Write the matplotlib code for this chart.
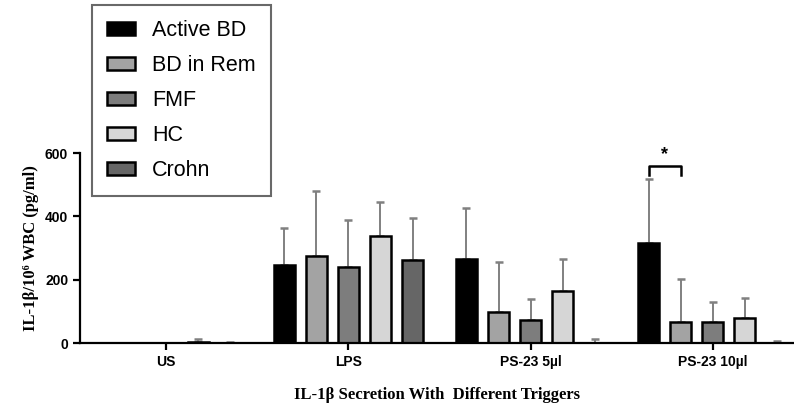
import numpy as np
import matplotlib
matplotlib.use("Agg")
import matplotlib.pyplot as plt

# --- Data ---
triggers = ["US", "LPS", "PS-23 5µl", "PS-23 10µl"]
groups = ["Active BD", "BD in Rem", "FMF", "HC", "Crohn"]

active_bd = [0, 248, 264, 315]
bd_in_rem = [0, 275, 97, 67]
fmf = [0, 239, 73, 67]
hc = [4, 338, 165, 80]
crohn = [1, 262, 1, 1]

active_bd_err = [0, 116, 161, 202]
bd_in_rem_err = [0, 206, 158, 134]
fmf_err = [0, 149, 65, 63]
hc_err = [8, 108, 100, 61]
crohn_err = [1, 132, 11, 6]

means = [active_bd, bd_in_rem, fmf, hc, crohn]
errs = [active_bd_err, bd_in_rem_err, fmf_err, hc_err, crohn_err]
colors = ["#000000", "#a3a3a3", "#7d7d7d", "#d6d6d6", "#666666"]

plt.rcParams.update({
    "font.family": "Liberation Sans",
    "font.weight": "bold",
    "axes.linewidth": 1.6,
})

fig = plt.figure(figsize=(7.94, 4.05), dpi=100)
ax = fig.add_axes([0.1008, 0.153, 0.899, 0.469])

x = np.arange(len(triggers))
step = 0.176
width = 0.115

for i, (name, m, e, c) in enumerate(zip(groups, means, errs, colors)):
    pos = x + (i - 2) * step
    ax.errorbar(pos, m, yerr=[np.zeros(len(m)), e], fmt="none", ecolor="#808080",
                elinewidth=1.4, capsize=3, capthick=1.8, zorder=1)
    ax.bar(pos, m, width, color=c, edgecolor="black", linewidth=1.8, label=name, zorder=2)

# significance bracket: Active BD vs BD in Rem at PS-23 10µl
x1 = x[3] - 2 * step
x2 = x[3] - 1 * step
ax.plot([x1, x1, x2, x2], [530, 559, 559, 530], color="black", lw=1.8, clip_on=False)
ax.text((x1 + x2) / 2, 595, "*", ha="center", va="center", fontsize=13, clip_on=False)

ax.set_xlim(-0.473, 3.445)
ax.set_ylim(0, 600)
ax.set_yticks([0, 200, 400, 600])
ax.set_xticks(x)
ax.set_xticklabels(triggers)
ax.tick_params(axis="both", direction="out", length=5, width=1.6, labelsize=10)
ax.spines["top"].set_visible(False)
ax.spines["right"].set_visible(False)

ax.set_ylabel("IL-1β/10⁶ WBC (pg/ml)", family="Liberation Serif", fontweight="bold",
              fontsize=12, labelpad=4)
ax.set_xlabel("IL-1β Secretion With  Different Triggers", family="Liberation Serif",
              fontweight="bold", fontsize=12, labelpad=13)

leg = ax.legend(loc="upper left", bbox_to_anchor=(92 / 794, 1 - 5 / 405),
                bbox_transform=fig.transFigure, borderaxespad=0, fancybox=False,
                handlelength=1.3, handleheight=0.55, labelspacing=0.65,
                handletextpad=0.8, borderpad=0.7, prop={"weight": "normal", "size": 15.5})
leg.get_frame().set_edgecolor("#444444")
leg.get_frame().set_linewidth(1.5)

fig.savefig("out.png", dpi=100)
